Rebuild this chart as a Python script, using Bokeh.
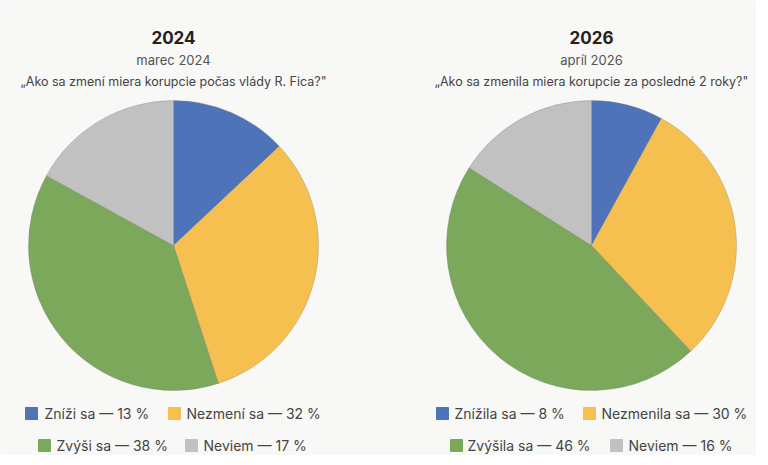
from bokeh.plotting import figure
from bokeh.models import Range1d
from bokeh.embed import file_html
from bokeh.resources import INLINE
from bokeh.core.properties import value
import math

# ---- data ----
years = ["2024", "2026"]
subtitles = ["marec 2024", "apríl 2026"]
questions = ["„Ako sa zmení miera korupcie počas vlády R. Fica?\"",
             "„Ako sa zmenila miera korupcie za posledné 2 roky?\""]
cats_2024 = ["Zníži sa", "Nezmení sa", "Zvýši sa", "Neviem"]
vals_2024 = [13, 32, 38, 17]
cats_2026 = ["Znížila sa", "Nezmenila sa", "Zvýšila sa", "Neviem"]
vals_2026 = [8, 30, 46, 16]
colors = ["#4e73b9", "#f5c04f", "#7ba85b", "#c1c1c1"]

W, H = 756, 455
BG = "#f8f8f6"
FONT = "Inter"

p = figure(width=W, height=H, output_backend="svg", toolbar_location=None,
           x_range=Range1d(0, W), y_range=Range1d(0, H), min_border=0,
           background_fill_color=BG, border_fill_color=BG)
p.axis.visible = False
p.grid.visible = False
p.outline_line_color = None

def X(sx):
    return sx

def Y(sy):
    return H - sy

panels = [
    dict(cx=173, cats=cats_2024, vals=vals_2024,
         legend=[(31, 413, 44), (174, 413, 186), (44, 445, 56), (191, 445, 203)]),
    dict(cx=591, cats=cats_2026, vals=vals_2026,
         legend=[(442, 413, 454), (589, 413, 601), (456, 445, 467), (616, 445, 628)]),
]

for i, pan in enumerate(panels):
    cx = pan["cx"]
    vals = pan["vals"]
    total = sum(vals)
    cum = 0
    starts, ends = [], []
    for v in vals:
        starts.append(math.pi / 2 - 2 * math.pi * cum / total)
        cum += v
        ends.append(math.pi / 2 - 2 * math.pi * cum / total)
    p.wedge(x=[X(cx)] * len(vals), y=[Y(245)] * len(vals), radius=145,
            radius_units="screen", start_angle=starts, end_angle=ends,
            direction="clock", fill_color=colors, line_color="#6f6f6f",
            line_alpha=0.35, line_width=0.8)

    # titles
    p.text(x=[X(cx)], y=[Y(37)], text=[years[i]], text_font=value(FONT),
           text_font_size="17px", text_font_style="bold", text_color="#222222",
           text_align="center", text_baseline="middle")
    p.text(x=[X(cx)], y=[Y(59)], text=[subtitles[i]], text_font=value(FONT),
           text_font_size="13px", text_color="#555555",
           text_align="center", text_baseline="middle")
    p.text(x=[X(cx)], y=[Y(81)], text=[questions[i]], text_font=value(FONT),
           text_font_size="12.5px", text_color="#444444",
           text_align="center", text_baseline="middle")

    # legend
    for j, (sqx, ly, tx) in enumerate(pan["legend"]):
        p.scatter(x=[X(sqx)], y=[Y(ly)], marker="square", size=12,
                  fill_color=colors[j], line_color=colors[j])
        p.text(x=[X(tx)], y=[Y(ly)], text=[f"{pan['cats'][j]} — {vals[j]} %"],
               text_font=value(FONT), text_font_size="14px", text_color="#444444",
               text_align="left", text_baseline="middle")

html = file_html(p, INLINE)
html = html.replace("<body>", f'<body style="background:{BG}">', 1)
open("out.html", "w").write(html)
